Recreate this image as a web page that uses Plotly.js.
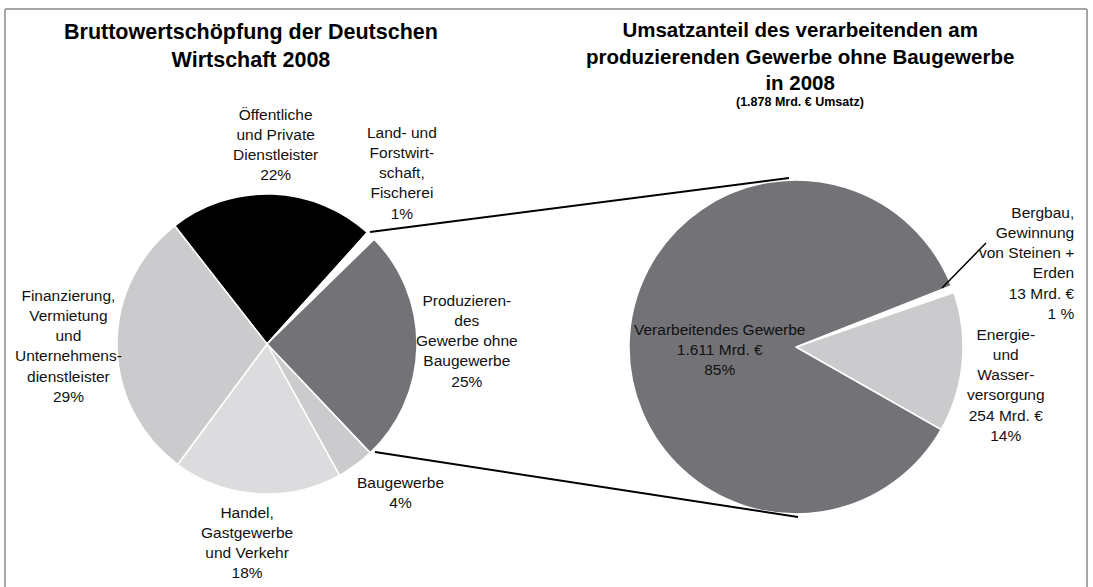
<!DOCTYPE html>
<html>
<head>
<meta charset="utf-8">
<script src="https://cdn.plot.ly/plotly-3.0.1.min.js"></script>
<style>
html,body{margin:0;padding:0;background:#fff;}
#chart{width:1093px;height:587px;}
</style>
</head>
<body>
<div id="chart"></div>
<script>
// ---- Data ----
var leftLabels = ["Öffentliche und Private Dienstleister", "Land- und Forstwirtschaft, Fischerei", "Produzierendes Gewerbe ohne Baugewerbe", "Baugewerbe", "Handel, Gastgewerbe und Verkehr", "Finanzierung, Vermietung und Unternehmensdienstleister"];
var leftValues = [22, 1, 25, 4, 18, 29];
var leftText = ["Öffentliche<br>und Private<br>Dienstleister<br>22%", "Land- und<br>Forstwirt-<br>schaft,<br>Fischerei<br>1%", "Produzieren-<br>des<br>Gewerbe ohne<br>Baugewerbe<br>25%", "Baugewerbe<br>4%", "Handel,<br>Gastgewerbe<br>und Verkehr<br>18%", "Finanzierung,<br>Vermietung<br>und<br>Unternehmens-<br>dienstleister<br>29%"];

var rightLabels = ["Bergbau, Gewinnung von Steinen + Erden", "Energie- und Wasserversorgung", "Verarbeitendes Gewerbe"];
var rightValues = [13, 254, 1611]; // Mrd. €
var rightText = ["Bergbau,<br>Gewinnung<br>von Steinen +<br>Erden<br>13 Mrd. €<br>1 %", "Energie-<br>und<br>Wasser-<br>versorgung<br>254 Mrd. €<br>14%", "Verarbeitendes Gewerbe<br>1.611 Mrd. €<br>85%"];

var leftTitle = "<b>Bruttowertschöpfung der Deutschen<br>Wirtschaft 2008</b>";
var rightTitle = "<b>Umsatzanteil des verarbeitenden am<br>produzierenden Gewerbe ohne Baugewerbe<br>in 2008</b>";
var rightSubtitle = "<b>(1.878 Mrd. € Umsatz)</b>";

// ---- Styles / layout (pixel positions) ----
var W = 1093, H = 587;
function px(x){ return x / W; }
function py(y){ return 1 - y / H; }

var leftColors = ["#000000", "#ffffff", "#737377", "#cbcbcd", "#dcdcde", "#cbcbcd"];
var rightColors = ["#ffffff", "#cbcbcd", "#737377"];

var leftPos = [[275,145,"center"],[402,173,"center"],[467,341,"center"],[400,492,"center"],[247,542,"center"],[68,346,"center"]];
var rightPos = [[1077,263,"right"],[1006,385,"center"],[719,349,"center"]];

var labelFont = {family: "Liberation Sans, Arial, sans-serif", size: 15.5, color: "#111"};
var rLabelFont = {family: "Liberation Sans, Arial, sans-serif", size: 15.5, color: "#111"};

var traces = [
  {
    type: "pie", labels: leftLabels, values: leftValues, sort: false,
    direction: "clockwise", rotation: -38,
    marker: {colors: leftColors, line: {color: "#ffffff", width: 1.5}},
    textinfo: "none", hoverinfo: "label+percent", showlegend: false,
    domain: {x: [px(117), px(417)], y: [py(494), py(194)]}
  },
  {
    type: "pie", labels: rightLabels, values: rightValues, sort: false,
    direction: "clockwise", rotation: 68.5,
    marker: {colors: rightColors, line: {color: "#ffffff", width: 1.5}},
    textinfo: "none", hoverinfo: "label+value+percent", showlegend: false,
    domain: {x: [px(629), px(963)], y: [py(514), py(180)]}
  }
];

var annotations = [];
leftText.forEach(function(t, i){
  var p = leftPos[i];
  annotations.push({text: t, xref: "paper", yref: "paper", x: px(p[0]), y: py(p[1]),
    xanchor: p[2], yanchor: "middle", align: p[2], showarrow: false, font: labelFont});
});
rightText.forEach(function(t, i){
  var p = rightPos[i];
  annotations.push({text: t, xref: "paper", yref: "paper", x: px(p[0]), y: py(p[1]),
    xanchor: p[2], yanchor: "middle", align: p[2], showarrow: false, font: rLabelFont});
});
annotations.push({text: leftTitle, xref: "paper", yref: "paper", x: px(251), y: py(46),
  xanchor: "center", yanchor: "middle", align: "center", showarrow: false,
  font: {family: "Liberation Sans, Arial, sans-serif", size: 21.5, color: "#000"}});
annotations.push({text: rightTitle, xref: "paper", yref: "paper", x: px(800), y: py(56),
  xanchor: "center", yanchor: "middle", align: "center", showarrow: false,
  font: {family: "Liberation Sans, Arial, sans-serif", size: 20.5, color: "#000"}});
annotations.push({text: rightSubtitle, xref: "paper", yref: "paper", x: px(800), y: py(102),
  xanchor: "center", yanchor: "middle", align: "center", showarrow: false,
  font: {family: "Liberation Sans, Arial, sans-serif", size: 12.5, color: "#000"}});

var lineStyle = {color: "#000", width: 2};
var shapes = [
  {type: "line", xref: "paper", yref: "paper", x0: px(370), y0: py(232), x1: px(789), y1: py(178), line: lineStyle},
  {type: "line", xref: "paper", yref: "paper", x0: px(375), y0: py(452), x1: px(798), y1: py(517), line: lineStyle},
  {type: "line", xref: "paper", yref: "paper", x0: px(942), y0: py(288), x1: px(986), y1: py(243), line: {color: "#000", width: 1.5}},
  {type: "line", xref: "paper", yref: "paper", x0: px(5), y0: py(9), x1: px(1087), y1: py(9), line: {color: "#a6a6a6", width: 2}},
  {type: "line", xref: "paper", yref: "paper", x0: px(5), y0: py(9), x1: px(5), y1: py(590), line: {color: "#a6a6a6", width: 2}},
  {type: "line", xref: "paper", yref: "paper", x0: px(1087), y0: py(9), x1: px(1087), y1: py(590), line: {color: "#a6a6a6", width: 2}}
];

var layout = {
  width: W, height: H,
  margin: {l: 0, r: 0, t: 0, b: 0},
  paper_bgcolor: "#ffffff",
  showlegend: false,
  annotations: annotations,
  shapes: shapes,
  font: {family: "Liberation Sans, Arial, sans-serif"}
};

Plotly.newPlot("chart", traces, layout, {displayModeBar: false, staticPlot: true});
</script>
</body>
</html>
